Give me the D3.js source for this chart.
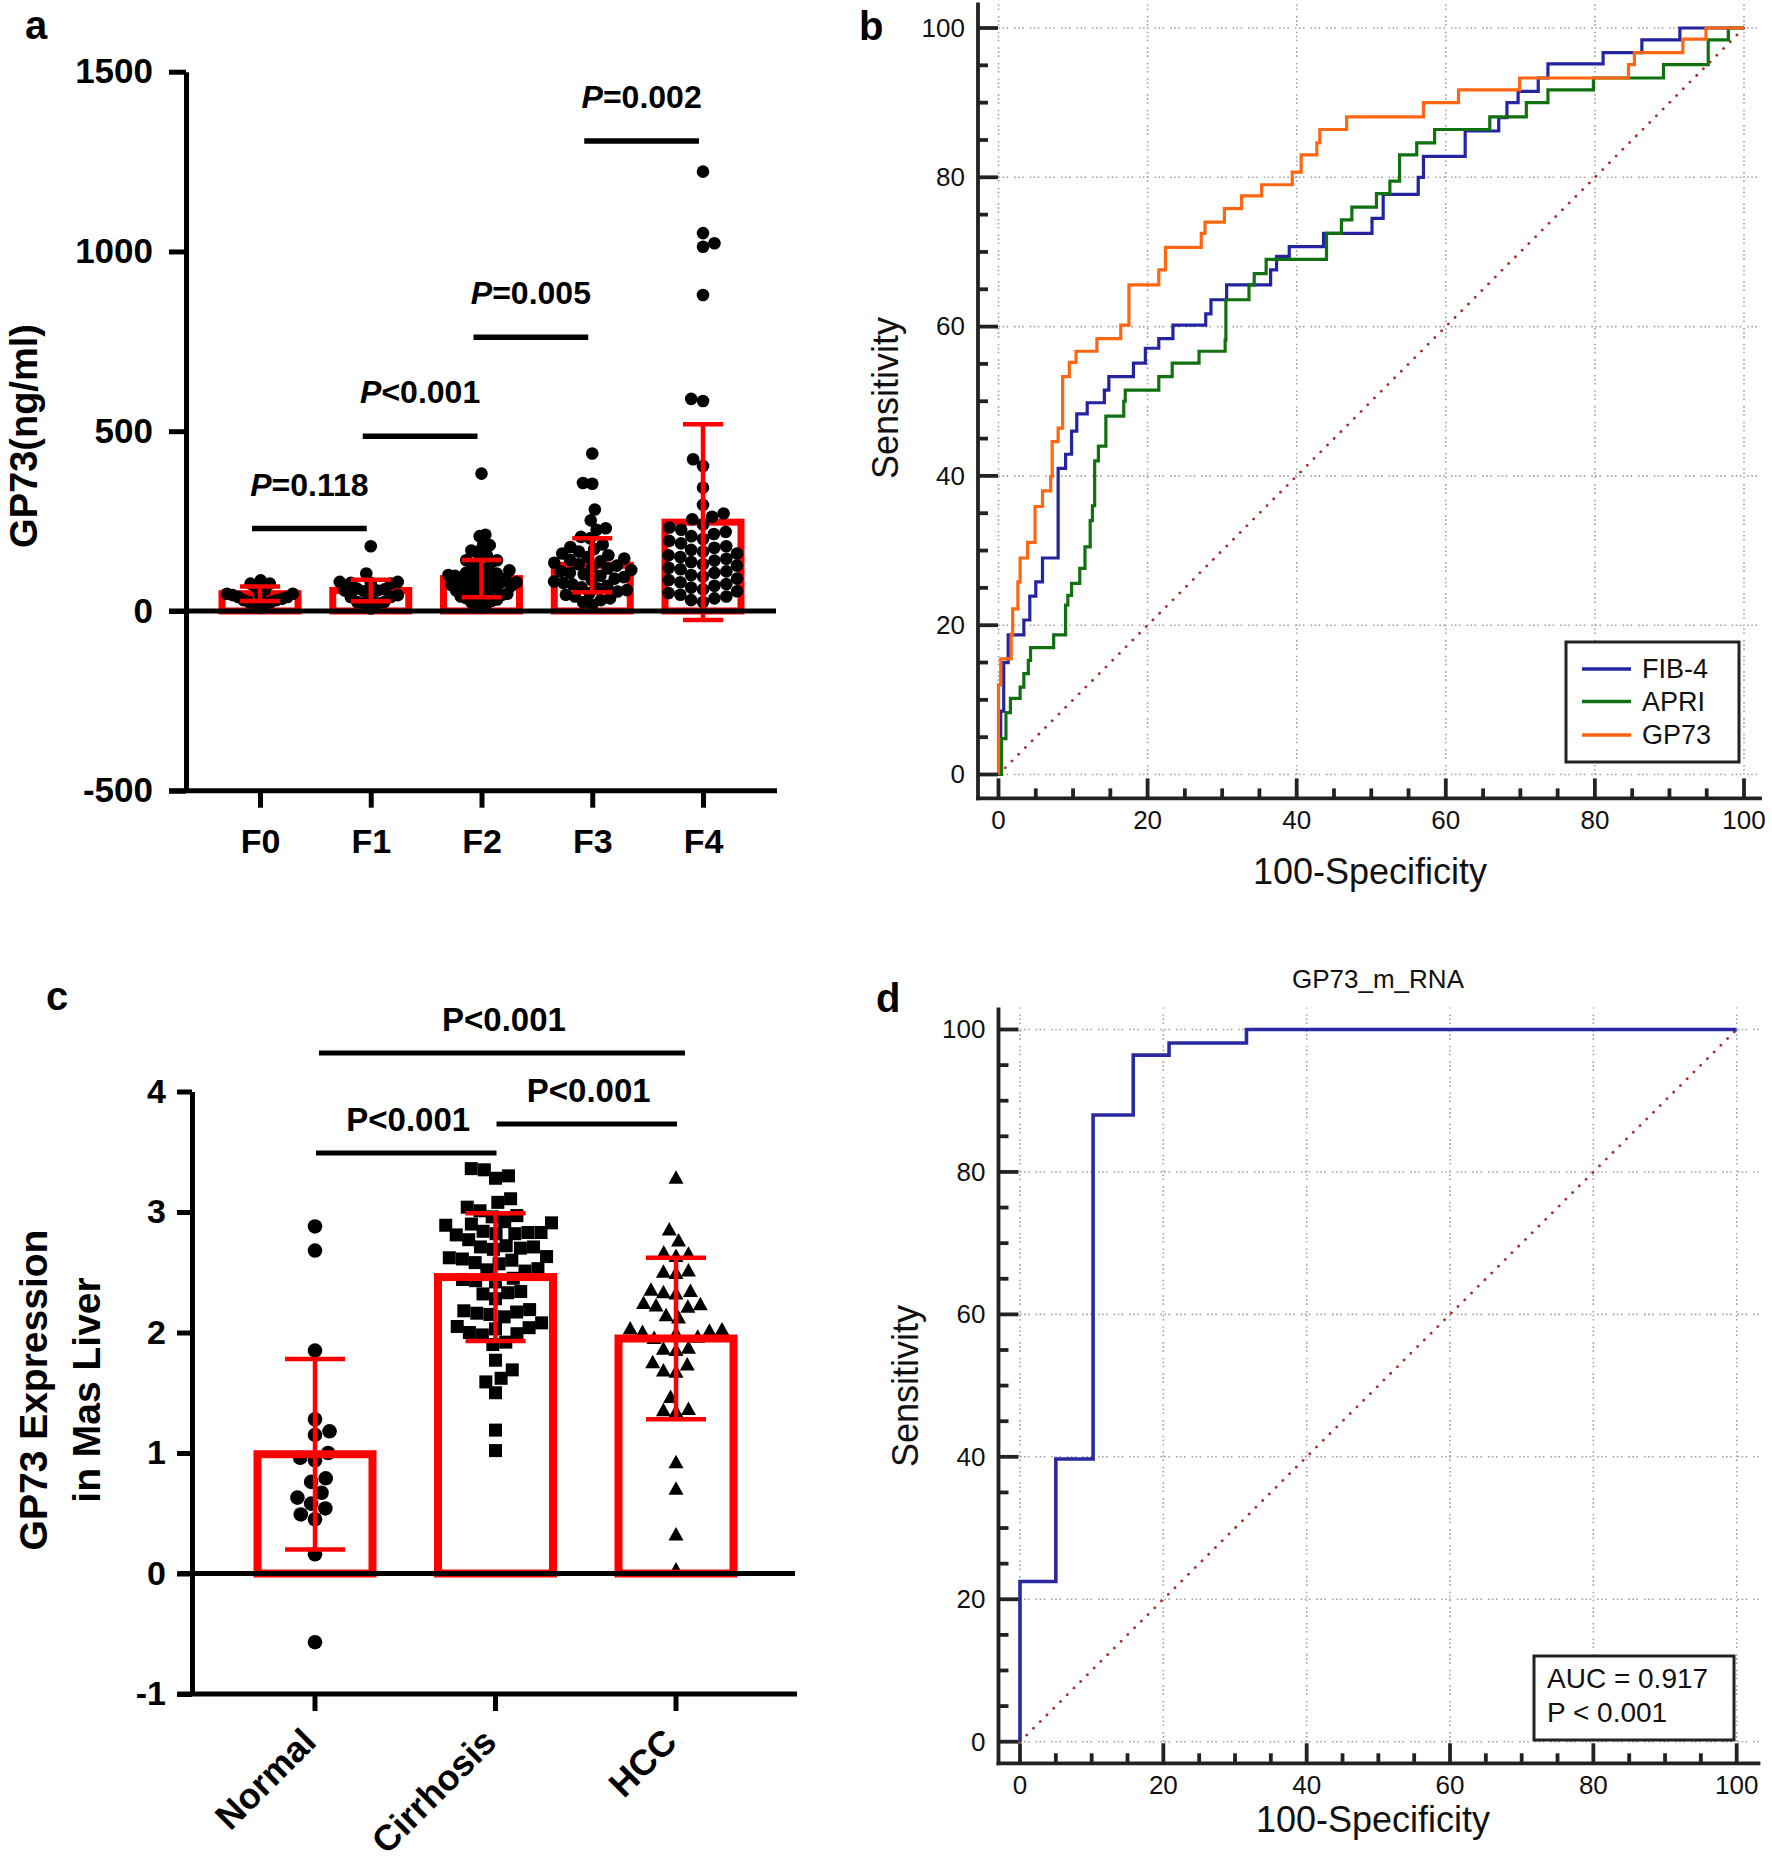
<!DOCTYPE html>
<html><head><meta charset="utf-8">
<script src="https://cdn.jsdelivr.net/npm/d3@7"></script>
<style>
body{margin:0;background:#fff}
svg{display:block}
text{font-family:"Liberation Sans",Arial,Helvetica,sans-serif}
</style></head>
<body>
<svg id="fig" width="1772" height="1863"></svg>
<script>
// ---------------- DATA ----------------
// Panel a: GP73 serum levels by fibrosis stage
const stagesA = ["F0","F1","F2","F3","F4"];
const dotsF0 = [85,76,76,67,59,48,48,44,44,39,39,34,30,30,25,25,21,16,8];
const dotsF1 = [180,104,81,81,78,78,76,62,60,57,57,55,44,44,39,39,25,25,21,21,7];
const dotsF2 = [382,212,208,183,182,168,164,155,150,141,141,135,131,122,118,113,110,106,104,100,98,95,92,90,88,85,83,80,78,75,72,70,68,66,62,60,57,55,52,48,45,42,40,36,32,28,25,20,15,10];
const dotsF3 = [438,356,354,282,252,230,226,206,202,185,178,172,165,160,155,150,146,142,138,134,130,126,122,118,114,110,106,102,98,94,90,86,82,78,74,70,66,62,58,54,50,45,40,35,30,24,18];
const dotsF4 = [1222,1051,1023,1013,879,590,584,422,403,343,295,271,262,255,240,232,226,220,214,208,200,195,188,180,176,170,165,160,155,150,145,140,136,130,126,120,116,110,106,100,96,90,86,80,75,70,65,60,55,50,45,40,35,30,25];
const meansA = [48,57,90,127,247];
const sdA = [20,30,52,75,272];
const yTicksA = [1500,1000,500,0,-500];
const pairsA = [["F0","F1"],["F1","F2"],["F2","F3"],["F3","F4"]];
const pTextA = ["=0.118","<0.001","=0.005","=0.002"];
const pLineA = [229,486,761,1307];

// Panel b: ROC curves (100-specificity, sensitivity)
const rocFIB4 = [[0,0],[0.3,8.5],[0.7,15.0],[1.3,18.7],[3.4,20.7],[4.2,23.9],[5.0,25.8],[5.9,29],[8.0,41.0],[9.0,42.9],[9.8,46.0],[10.5,48.3],[11.9,49.8],[14.2,51.5],[14.8,53.3],[18.1,55.1],[19.7,57.1],[21.5,58.4],[23.4,60.2],[27.8,61.7],[28.5,63.6],[30.6,65.6],[36.5,67.6],[37.3,69.4],[39.0,70.7],[43.6,72.5],[50.1,74.5],[51.6,77.7],[56.3,80.0],[57.0,82.8],[62.6,86.2],[67.1,88.0],[68.2,90.0],[69.7,91.5],[72.4,93.3],[73.7,95.2],[81.1,96.7],[86.3,98.4],[91.4,100],[100,100]];
const rocAPRI = [[0,0],[0.4,4.8],[1.0,8.3],[1.6,10.2],[2.9,11.7],[3.4,13.5],[4.0,15.3],[4.3,17.0],[7.4,18.7],[9.0,22.7],[9.3,24.0],[9.8,25.6],[10.9,27.6],[11.6,30.5],[12.3,34],[12.6,36],[12.9,42],[13.4,44],[14.4,48],[16.8,50],[17.0,51.5],[21.5,53.3],[23.3,55.1],[26.9,56.7],[30.4,58.2],[30.5,63.6],[33.6,65.6],[34.3,67.1],[35.9,69.0],[44.0,72.5],[46.0,74.3],[47.4,76.0],[50.7,77.8],[52.5,79.5],[53.8,83.0],[56.1,84.6],[58.5,86.4],[65.9,88.1],[70.8,90.0],[73.7,91.7],[79.8,93.3],[89.2,95.1],[95.2,98.4],[97.9,100],[100,100]];
const rocGP73 = [[0,0],[0,12],[0.3,15.5],[1.7,18.8],[1.9,22.2],[2.6,25.8],[2.9,29],[3.9,31.1],[4.9,35.9],[5.9,38.0],[7.0,39.9],[7.2,44.6],[8.0,46.4],[8.6,53.3],[9.5,55.2],[10.4,56.7],[13.2,58.4],[16.4,60.2],[17.5,65.6],[21.5,67.6],[22.4,70.6],[27.2,72.5],[27.7,74.0],[30.3,75.8],[32.6,77.5],[35.3,79.0],[39.4,80.7],[40.6,83.0],[42.7,84.6],[43.1,86.4],[46.7,88.1],[57.0,90.0],[61.7,91.7],[69.9,93.3],[84.5,95.1],[85.3,96.7],[91.8,98.5],[94.9,100],[100,100]];
const rocNamesB = ["FIB-4","APRI","GP73"];
const rocTicks = [0,20,40,60,80,100];

// Panel c: GP73 mRNA expression
const groupsC = ["Normal","Cirrhosis","HCC"];
const dotsNormal = [2.88,2.68,1.85,1.28,1.18,1.15,1.0,0.96,0.94,0.79,0.76,0.67,0.63,0.58,0.54,0.49,0.45,0.16,-0.57];
const dotsCirrhosis = [3.36,3.35,3.30,3.28,3.11,3.08,3.04,3.01,2.97,2.96,2.92,2.91,2.90,2.89,2.84,2.83,2.83,2.82,2.82,2.81,2.77,2.72,2.71,2.71,2.70,2.69,2.63,2.62,2.61,2.60,2.58,2.57,2.53,2.52,2.51,2.45,2.44,2.43,2.42,2.34,2.33,2.32,2.28,2.19,2.18,2.17,2.16,2.15,2.13,2.08,2.05,2.04,2.03,2.00,1.99,1.98,1.92,1.90,1.77,1.69,1.62,1.59,1.50,1.19,1.02];
const dotsHCC = [3.28,2.85,2.76,2.66,2.65,2.63,2.51,2.50,2.49,2.35,2.34,2.33,2.32,2.24,2.23,2.22,2.21,2.14,2.12,2.03,2.02,2.01,2.00,1.99,1.96,1.95,1.87,1.86,1.85,1.75,1.73,1.68,1.67,1.46,1.36,1.35,1.34,0.92,0.70,0.32,0.03];
const meansC = [0.99,2.46,1.95];
const sdC = [0.79,0.53,0.67];
const yTicksC = [4,3,2,1,0,-1];
const pairsC = [["Normal","HCC"],["Normal","Cirrhosis"],["Cirrhosis","HCC"]];
const pTextC = ["P<0.001","P<0.001","P<0.001"];
const pLineC = [4.32,3.49,3.73];

// Panel d: single ROC
const rocMRNA = [[0,0],[0,22.5],[5.0,39.7],[10.2,88.0],[15.8,96.4],[20.8,98.1],[31.6,100],[100,100]];
const aucLines = ["AUC = 0.917","P < 0.001"];

// ---------------- HELPERS ----------------
const svg = d3.select("#fig");
svg.append("rect").attr("width",1772).attr("height",1863).attr("fill","#fff");

// beeswarm layout; offsets squeezed to a maximum half-width (GraphPad-like overlap)
function swarm(vals, ys, diam, maxHalf) {
  const pts = vals.map(v => ({v, y: ys(v)})).sort((a,b) => b.y - a.y);
  const placed = [];
  pts.forEach((p, k) => {
    const iv = [];
    placed.forEach(q => {
      const dy = Math.abs(p.y - q.y);
      if (dy < diam) { const w = Math.sqrt(diam*diam - dy*dy); iv.push([q.x - w, q.x + w]); }
    });
    const c = [0];
    iv.forEach(([a,b]) => c.push(a, b));
    const sgn = k % 2 ? 1 : -1;
    c.sort((a,b) => (Math.abs(a) - Math.abs(b)) || (sgn*(a-b)));
    let x = 0;
    for (const t of c) { if (iv.every(([a,b]) => t <= a + 1e-6 || t >= b - 1e-6)) { x = t; break; } }
    p.x = x; placed.push(p);
  });
  const m = d3.max(placed, p => Math.abs(p.x)) || 0;
  if (maxHalf && m > maxHalf) placed.forEach(p => p.x *= maxHalf / m);
  return placed;
}

// ---------------- PANEL A ----------------
(function(){
  const g = svg.append("g");
  const x = d3.scalePoint().domain(stagesA).range([260, 703]);
  const y = d3.scaleLinear().domain([-500,1500]).range([790.7, 71.7]);
  const dots = [dotsF0,dotsF1,dotsF2,dotsF3,dotsF4];
  const halfW = [33,31,35,39,40];

  g.selectAll("rect.bar").data(stagesA).join("rect")
    .attr("x", d => x(d) - 38).attr("width", 76)
    .attr("y", (d,i) => y(meansA[i])).attr("height", (d,i) => y(0) - y(meansA[i]))
    .attr("fill","none").attr("stroke","#ff0000").attr("stroke-width",7);

  stagesA.forEach((s,i) => {
    const sw = swarm(dots[i], y, 12, halfW[i]);
    g.append("g").selectAll("circle").data(sw).join("circle")
      .attr("cx", d => x(s) + d.x).attr("cy", d => d.y).attr("r", 6.3).attr("fill","#000");
  });

  stagesA.forEach((s,i) => {
    const eg = g.append("g").attr("stroke","#ff0000").attr("stroke-width",4.5).attr("fill","none");
    eg.append("line").attr("x1",x(s)).attr("x2",x(s)).attr("y1",y(meansA[i]-sdA[i])).attr("y2",y(meansA[i]+sdA[i]));
    [meansA[i]-sdA[i], meansA[i]+sdA[i]].forEach(v =>
      eg.append("line").attr("x1",x(s)-20).attr("x2",x(s)+20).attr("y1",y(v)).attr("y2",y(v)));
  });

  g.append("line").attr("x1",169).attr("x2",776).attr("y1",y(0)).attr("y2",y(0))
    .attr("stroke","#000").attr("stroke-width",5);

  const ya = g.append("g").attr("transform","translate(186,0)")
    .call(d3.axisLeft(y).tickValues(yTicksA).tickFormat(d => String(d)).tickSize(17).tickPadding(16).tickSizeOuter(0));
  ya.select(".domain").attr("stroke","#000").attr("stroke-width",5);
  ya.selectAll(".tick line").attr("stroke","#000").attr("stroke-width",5);
  ya.selectAll(".tick text").attr("font-size",35).attr("font-weight","bold").attr("fill","#000")
    .attr("font-family",'"Liberation Sans",Arial,sans-serif');

  g.append("line").attr("x1",169).attr("x2",777).attr("y1",y(-500)).attr("y2",y(-500))
    .attr("stroke","#000").attr("stroke-width",5);
  const xa = g.append("g").attr("transform",`translate(0,${y(-500)})`)
    .call(d3.axisBottom(x).tickSize(17).tickPadding(21).tickSizeOuter(0));
  xa.select(".domain").remove();
  xa.selectAll(".tick line").attr("stroke","#000").attr("stroke-width",5);
  xa.selectAll(".tick text").attr("font-size",34).attr("font-weight","bold").attr("fill","#000")
    .attr("font-family",'"Liberation Sans",Arial,sans-serif');

  pairsA.forEach((p,i) => {
    const x1 = x(p[0]) - 8, x2 = x(p[1]) - 4, yy = y(pLineA[i]);
    g.append("line").attr("x1",x1).attr("x2",x2).attr("y1",yy).attr("y2",yy)
      .attr("stroke","#000").attr("stroke-width",5.5);
    const t = g.append("text").attr("x",(x1+x2)/2).attr("y",yy-33).attr("text-anchor","middle")
      .attr("font-size",32).attr("font-weight","bold").attr("fill","#000");
    t.append("tspan").attr("font-style","italic").text("P");
    t.append("tspan").text(pTextA[i]);
  });

  g.append("text").attr("transform","translate(37,436) rotate(-90)").attr("text-anchor","middle")
    .attr("font-size",38).attr("font-weight","bold").text("GP73(ng/ml)");
  g.append("text").attr("x",25).attr("y",39).attr("font-size",40).attr("font-weight","bold").text("a");
})();

// ---------------- ROC PANEL ----------------
function rocPanel(cfg) {
  const g = svg.append("g");
  const x = d3.scaleLinear().domain([0,100]).range(cfg.xr);
  const y = d3.scaleLinear().domain([0,100]).range(cfg.yr);
  const [xmin,xmax,ymin,ymax] = cfg.ext;
  const gg = g.append("g").attr("stroke","#a2a2a2").attr("stroke-width",1.6)
    .attr("stroke-dasharray","1.6,2.4,1.6,2.4,1.6,6");
  rocTicks.forEach(t => {
    gg.append("line").attr("x1",x(0)).attr("x2",x(xmax)).attr("y1",y(t)).attr("y2",y(t));
    gg.append("line").attr("x1",x(t)).attr("x2",x(t)).attr("y1",y(0)).attr("y2",y(ymax));
  });
  g.append("line").attr("x1",x(0)).attr("y1",y(0)).attr("x2",x(100)).attr("y2",y(100))
    .attr("stroke","#a3302c").attr("stroke-width",2.8).attr("stroke-linecap","round")
    .attr("stroke-dasharray","0.1,9.4");
  const line = d3.line().x(d => x(d[0])).y(d => y(d[1])).curve(d3.curveStepAfter);
  cfg.curves.forEach(c => {
    g.append("path").attr("d", line(c.data)).attr("fill","none").attr("stroke",c.color)
      .attr("stroke-width",cfg.lw).attr("stroke-linejoin","miter");
  });
  const ax = g.append("g").attr("stroke","#222").attr("stroke-width",3.8);
  ax.append("line").attr("x1",x(xmin)).attr("x2",x(xmin)).attr("y1",y(ymax)).attr("y2",y(ymin)+1.9);
  ax.append("line").attr("x1",x(xmin)-1.9).attr("x2",x(xmax)).attr("y1",y(ymin)).attr("y2",y(ymin));
  d3.range(0,101,5).forEach(t => {
    const len = t % 20 === 0 ? 20 : 10;
    ax.append("line").attr("x1",x(xmin)).attr("x2",x(xmin)+len).attr("y1",y(t)).attr("y2",y(t));
    ax.append("line").attr("x1",x(t)).attr("x2",x(t)).attr("y1",y(ymin)).attr("y2",y(ymin)-len);
  });
  rocTicks.forEach(t => {
    g.append("text").attr("x",x(xmin)-13).attr("y",y(t)).attr("dy","0.34em").attr("text-anchor","end")
      .attr("font-size",26).attr("fill","#111").text(t);
    g.append("text").attr("x",x(t)).attr("y",y(ymin)+31).attr("text-anchor","middle")
      .attr("font-size",26).attr("fill","#111").text(t);
  });
  g.append("text").attr("x",cfg.xtitle[0]).attr("y",cfg.xtitle[1]).attr("text-anchor","middle")
    .attr("font-size",36).attr("fill","#111").text("100-Specificity");
  g.append("text").attr("transform",`translate(${cfg.ytitle[0]},${cfg.ytitle[1]}) rotate(-90)`)
    .attr("text-anchor","middle").attr("font-size",36).attr("fill","#111").text("Sensitivity");
  g.append("text").attr("x",cfg.label[0]).attr("y",cfg.label[1]).attr("font-size",40)
    .attr("font-weight","bold").attr("fill","#000").text(cfg.label[2]);
  return g;
}

// ---------------- PANEL B ----------------
(function(){
  const colors = ["#2424a0","#11700f","#ff6612"];
  const g = rocPanel({
    xr:[998.5,1744], yr:[774.5,28], ext:[-2.75,102.4,-3.2,103.4], lw:3.2,
    curves:[{data:rocFIB4,color:colors[0]},{data:rocAPRI,color:colors[1]},{data:rocGP73,color:colors[2]}],
    xtitle:[1370,884], ytitle:[898,398], label:[859,40,"b"]
  });
  g.append("rect").attr("x",1566).attr("y",642).attr("width",173).attr("height",120)
    .attr("fill","#fff").attr("stroke","#222").attr("stroke-width",3);
  const rowsY = [669,701.5,735];
  rocNamesB.forEach((n,i) => {
    g.append("line").attr("x1",1582).attr("x2",1631).attr("y1",rowsY[i]).attr("y2",rowsY[i])
      .attr("stroke",colors[i]).attr("stroke-width",3.5);
    g.append("text").attr("x",1642).attr("y",rowsY[i]).attr("dy","0.35em").attr("font-size",27)
      .attr("fill","#111").text(n);
  });
})();

// ---------------- PANEL C ----------------
(function(){
  const g = svg.append("g");
  const x = d3.scalePoint().domain(groupsC).range([315, 676]);
  const y = d3.scaleLinear().domain([-1,4]).range([1694, 1091.5]);
  const dots = [dotsNormal, dotsCirrhosis, dotsHCC];
  const diams = [15, 16, 16];
  const halfW = [32, 56, 46];

  groupsC.forEach((s,i) => {
    const sw = swarm(dots[i], y, diams[i], halfW[i]);
    const dg = g.append("g").attr("fill","#000");
    sw.forEach(d => {
      const cx = x(s) + d.x, cy = d.y;
      if (i === 0) dg.append("circle").attr("cx",cx).attr("cy",cy).attr("r",7.3);
      else if (i === 1) dg.append("rect").attr("x",cx-6.5).attr("y",cy-6.5).attr("width",13).attr("height",13);
      else dg.append("path").attr("d",`M${cx},${cy-8}L${cx+7.5},${cy+5.5}L${cx-7.5},${cy+5.5}Z`);
    });
  });

  g.selectAll("rect.bar").data(groupsC).join("rect")
    .attr("x", d => x(d) - 57.5).attr("width", 115)
    .attr("y", (d,i) => y(meansC[i])).attr("height", (d,i) => y(0) - y(meansC[i]))
    .attr("fill","none").attr("stroke","#ff0000").attr("stroke-width",8);

  groupsC.forEach((s,i) => {
    const eg = g.append("g").attr("stroke","#ff0000").attr("stroke-width",4.5);
    eg.append("line").attr("x1",x(s)).attr("x2",x(s)).attr("y1",y(meansC[i]-sdC[i])).attr("y2",y(meansC[i]+sdC[i]));
    [meansC[i]-sdC[i], meansC[i]+sdC[i]].forEach(v =>
      eg.append("line").attr("x1",x(s)-30).attr("x2",x(s)+30).attr("y1",y(v)).attr("y2",y(v)));
  });

  g.append("line").attr("x1",177.5).attr("x2",795).attr("y1",y(0)).attr("y2",y(0))
    .attr("stroke","#000").attr("stroke-width",5);

  const ya = g.append("g").attr("transform","translate(192,0)")
    .call(d3.axisLeft(y).tickValues(yTicksC).tickFormat(d => String(d)).tickSize(15).tickPadding(11).tickSizeOuter(0));
  ya.select(".domain").attr("stroke","#000").attr("stroke-width",5);
  ya.selectAll(".tick line").attr("stroke","#000").attr("stroke-width",5);
  ya.selectAll(".tick text").attr("font-size",34).attr("font-weight","bold").attr("fill","#000")
    .attr("font-family",'"Liberation Sans",Arial,sans-serif');

  g.append("line").attr("x1",177.5).attr("x2",797).attr("y1",y(-1)).attr("y2",y(-1))
    .attr("stroke","#000").attr("stroke-width",5);
  groupsC.forEach(s => {
    g.append("line").attr("x1",x(s)).attr("x2",x(s)).attr("y1",y(-1)).attr("y2",y(-1)+17)
      .attr("stroke","#000").attr("stroke-width",5);
    g.append("text").attr("transform",`translate(${x(s)+3},1744) rotate(-45)`).attr("text-anchor","end")
      .attr("font-size",36).attr("font-weight","bold").attr("fill","#000").text(s);
  });

  pairsC.forEach((p,i) => {
    const off = i === 0 ? [4,9] : [1,1];
    const x1 = x(p[0]) + off[0], x2 = x(p[1]) + off[1], yy = y(pLineC[i]);
    g.append("line").attr("x1",x1).attr("x2",x2).attr("y1",yy).attr("y2",yy)
      .attr("stroke","#000").attr("stroke-width",5);
    g.append("text").attr("x",(x1+x2)/2 + 2).attr("y",yy-22).attr("text-anchor","middle")
      .attr("font-size",33).attr("font-weight","bold").attr("fill","#000").text(pTextC[i]);
  });

  g.append("text").attr("transform","translate(47,1390) rotate(-90)").attr("text-anchor","middle")
    .attr("font-size",39).attr("font-weight","bold").text("GP73 Expression");
  g.append("text").attr("transform","translate(100,1390) rotate(-90)").attr("text-anchor","middle")
    .attr("font-size",39).attr("font-weight","bold").text("in Mas Liver");
  g.append("text").attr("x",46).attr("y",1010).attr("font-size",40).attr("font-weight","bold").text("c");
})();

// ---------------- PANEL D ----------------
(function(){
  const g = rocPanel({
    xr:[1020,1736.7], yr:[1741.7,1029.5], ext:[-3.0,103.3,-3.03,103.1], lw:3.6,
    curves:[{data:rocMRNA,color:"#2a2a9e"}],
    xtitle:[1373,1832], ytitle:[918,1386], label:[876,1012,"d"]
  });
  g.append("text").attr("x",1378).attr("y",988).attr("text-anchor","middle").attr("font-size",26)
    .attr("fill","#111").text("GP73_m_RNA");
  g.append("rect").attr("x",1534).attr("y",1656).attr("width",200).attr("height",84)
    .attr("fill","#fff").attr("stroke","#222").attr("stroke-width",3);
  aucLines.forEach((t,i) => {
    g.append("text").attr("x",1547).attr("y",[1688,1722][i]).attr("font-size",28).attr("fill","#111")
      .text(t);
  });
})();
</script>
</body></html>
